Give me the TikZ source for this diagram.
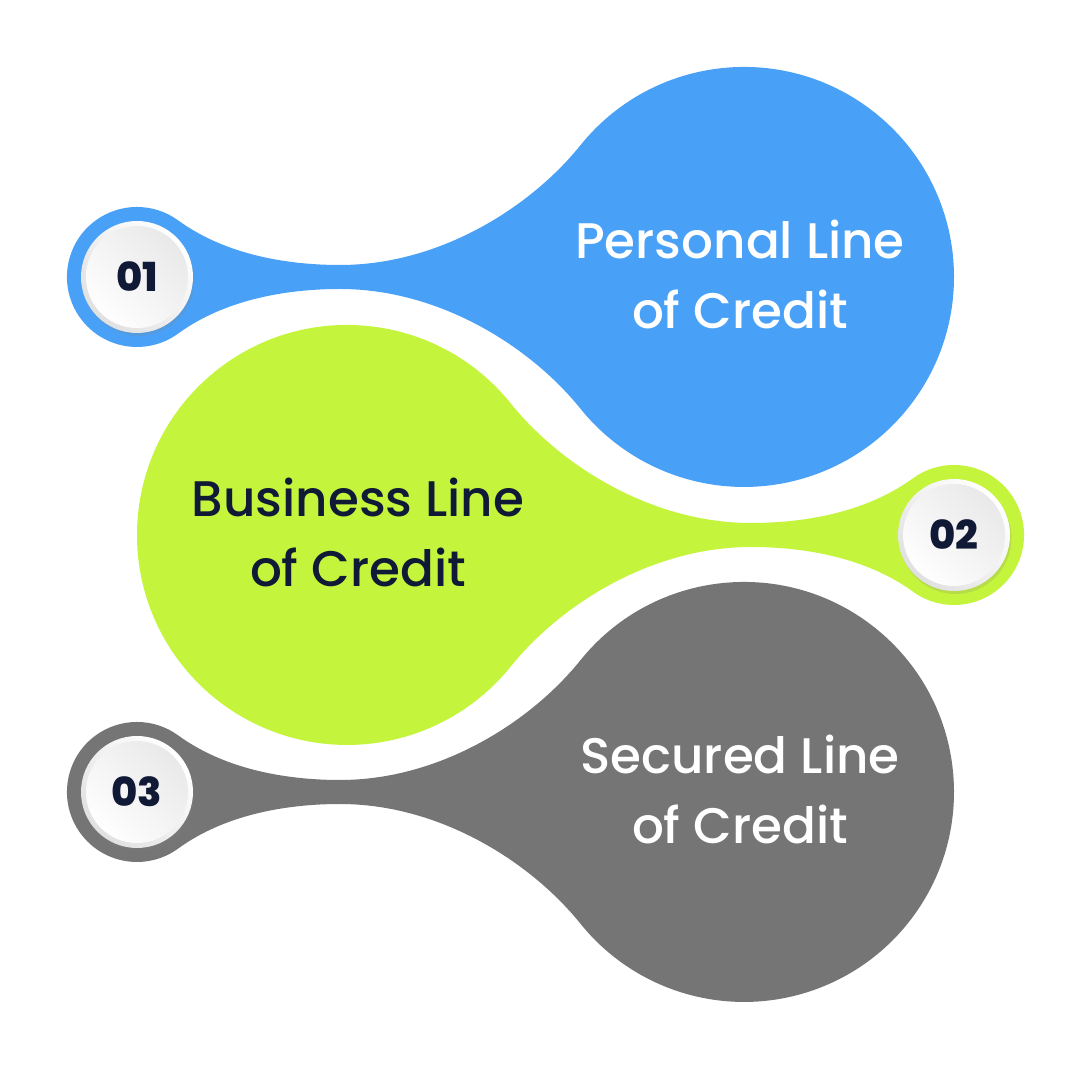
\documentclass[tikz,border=0pt]{standalone}
\usepackage{fontspec}
\setmainfont{Poppins}[UprightFont=* Medium]
\usetikzlibrary{shadows}

\definecolor{bluefill}{HTML}{49A1F7}
\definecolor{limefill}{HTML}{C4F43B}
\definecolor{greyfill}{HTML}{757575}
\definecolor{navy}{HTML}{101935}

\begin{document}
\begin{tikzpicture}[
    x=1pt, y=1pt,
    blob/.pic={
      \fill[#1] (-163.2,132.2) arc[start angle=141, end angle=-141, radius=210pt]
        .. controls (-213,-70) and (-304,-12) .. (-404,-12)
        .. controls (-454,-12) and (-517.3,-21.2) .. (-565.9,-56.6)
        arc[start angle=-54, end angle=-306, radius=70pt]
        .. controls (-517.3,21.2) and (-454,12) .. (-404,12)
        .. controls (-304,12) and (-213,70) .. (-163.2,132.2) -- cycle;
    },
    title/.style={
      text=white, align=center,
      font=\fontsize{50}{70}\selectfont
    },
    badge/.style={
      circle, minimum size=112pt, inner sep=0pt,
      left color=white, right color=black!12, shading angle=-45,
      drop shadow={shadow xshift=1.5pt, shadow yshift=-3pt, opacity=0.2},
      path picture={
        \shade[left color=black!9, right color=white, shading angle=-45]
          (path picture bounding box.center) circle (51pt);
      },
      text=navy, font=\fontsize{40}{40}\selectfont\bfseries
    }
    ]
  \fill[white] (0,0) rectangle (1080,1080);
  \useasboundingbox (0,0) rectangle (1080,1080);

  \pic at (744,803) {blob=bluefill};
  \pic[xscale=-1] at (347,545) {blob=limefill};
  \pic at (744,288) {blob=greyfill};

  \node[title] (t1) at (740,806) {Personal Line\\of Credit};
  \node[title, text=navy] (t2) at (358,548) {Business Line\\of Credit};
  \node[title] (t3) at (740,291) {Secured Line\\of Credit};

  \node[badge] (b1) at (137,803) {01};
  \node[badge] (b2) at (954,545) {02};
  \node[badge] (b3) at (137,288) {03};
\end{tikzpicture}
\end{document}
